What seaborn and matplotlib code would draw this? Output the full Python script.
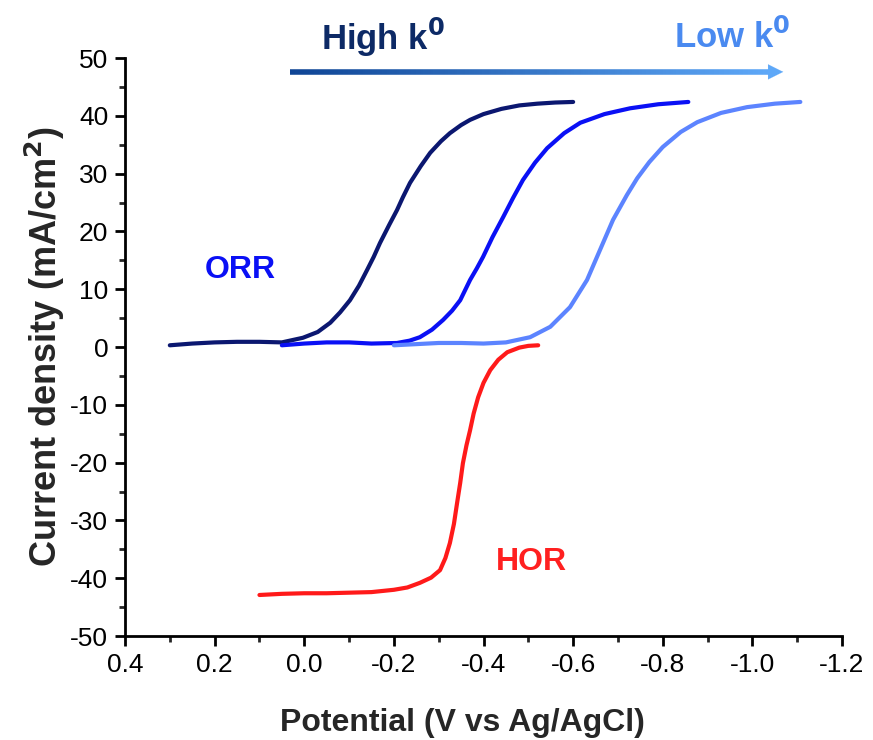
import numpy as np
import pandas as pd
import matplotlib
matplotlib.use("Agg")
import matplotlib.pyplot as plt
from matplotlib.collections import LineCollection
from matplotlib.colors import LinearSegmentedColormap
from matplotlib.ticker import MultipleLocator, FuncFormatter
import seaborn as sns

# Polarisation curves: potential (V vs Ag/AgCl) and current density (mA/cm^2)
orr_high_x = [0.30, 0.25, 0.20, 0.15, 0.10, 0.05, 0.003, -0.03, -0.058, -0.08, -0.102,
              -0.122, -0.14, -0.155, -0.169, -0.19, -0.207, -0.22, -0.236, -0.26, -0.281,
              -0.305, -0.325, -0.35, -0.37, -0.40, -0.44, -0.48, -0.52, -0.56, -0.60]
orr_high_y = [0.3, 0.6, 0.8, 0.9, 0.9, 0.8, 1.6, 2.6, 4.2, 6.0, 8.1,
              10.6, 13.3, 15.6, 18.0, 21.2, 23.7, 25.9, 28.4, 31.3, 33.6,
              35.6, 37.0, 38.4, 39.3, 40.3, 41.2, 41.8, 42.1, 42.3, 42.4]

orr_mid_x = [0.05, 0.0, -0.05, -0.10, -0.15, -0.207, -0.235, -0.258, -0.285, -0.31,
             -0.33, -0.348, -0.37, -0.385, -0.399, -0.42, -0.444, -0.466, -0.488,
             -0.515, -0.542, -0.58, -0.616, -0.67, -0.727, -0.79, -0.857]
orr_mid_y = [0.3, 0.6, 0.8, 0.8, 0.6, 0.7, 1.1, 1.7, 3.0, 4.7,
             6.3, 8.1, 11.6, 13.6, 15.6, 19.0, 22.5, 25.8, 28.9,
             31.9, 34.4, 37.0, 38.8, 40.3, 41.3, 42.0, 42.4]

orr_low_x = [-0.20, -0.25, -0.30, -0.35, -0.40, -0.45, -0.504, -0.549, -0.593, -0.631,
             -0.66, -0.689, -0.72, -0.743, -0.77, -0.80, -0.84, -0.877, -0.93,
             -0.988, -1.05, -1.107]
orr_low_y = [0.3, 0.5, 0.7, 0.7, 0.6, 0.8, 1.7, 3.5, 6.9, 11.6,
             16.8, 22.0, 26.3, 29.2, 32.0, 34.6, 37.2, 38.9, 40.5,
             41.5, 42.1, 42.4]

hor_x = [0.10, 0.05, 0.0, -0.05, -0.10, -0.15, -0.20, -0.23, -0.258, -0.283, -0.303,
         -0.315, -0.325, -0.334, -0.341, -0.348, -0.354, -0.362, -0.37, -0.378,
         -0.388, -0.40, -0.415, -0.433, -0.453, -0.48, -0.50, -0.522]
hor_y = [-42.9, -42.7, -42.6, -42.6, -42.5, -42.4, -42.0, -41.6, -40.8, -39.9, -38.6,
         -36.5, -33.9, -30.6, -27.0, -23.5, -20.1, -17.0, -14.4, -11.5,
         -8.7, -6.2, -4.0, -2.2, -0.9, -0.1, 0.2, 0.3]

series = ["ORR high", "ORR mid", "ORR low", "HOR"]
palette = {"ORR high": "#0b1770", "ORR mid": "#0a10f5", "ORR low": "#5c84ff", "HOR": "#ff1a1a"}

frames = []
for name, xs, ys in zip(series,
                        [orr_high_x, orr_mid_x, orr_low_x, hor_x],
                        [orr_high_y, orr_mid_y, orr_low_y, hor_y]):
    frames.append(pd.DataFrame({"E": xs, "j": ys, "curve": name}))
df = pd.concat(frames, ignore_index=True)

sns.set_theme(style="ticks")
plt.rcParams["font.family"] = ["Liberation Sans", "DejaVu Sans"]
plt.rcParams["axes.unicode_minus"] = False

fig = plt.figure(figsize=(8.73, 7.40), dpi=100)
ax = fig.add_axes([0.1432, 0.1405, 0.8213, 0.7811])

for name in series:
    sub = df[df["curve"] == name]
    sns.lineplot(data=sub, x="E", y="j", sort=False, estimator=None,
                 color=palette[name], lw=3.0, ax=ax, legend=False,
                 solid_joinstyle="round", solid_capstyle="round")

ax.set_xlim(0.4, -1.2)
ax.set_ylim(-50, 50)
ax.xaxis.set_major_locator(MultipleLocator(0.2))
ax.xaxis.set_minor_locator(MultipleLocator(0.1))
ax.yaxis.set_major_locator(MultipleLocator(10))
ax.yaxis.set_minor_locator(MultipleLocator(5))
ax.xaxis.set_major_formatter(FuncFormatter(lambda v, p: "0.0" if abs(v) < 1e-9 else f"{v:.1f}"))
ax.yaxis.set_major_formatter(FuncFormatter(lambda v, p: f"{v:.0f}"))

sns.despine(ax=ax)
for s in ["left", "bottom"]:
    ax.spines[s].set_linewidth(2.0)
    ax.spines[s].set_color("black")
ax.tick_params(which="major", length=7, width=2, direction="out", labelsize=19,
               colors="black", pad=5)
ax.tick_params(which="minor", length=4, width=2, direction="out")

ax.set_xlabel("Potential (V vs Ag/AgCl)", fontsize=23, fontweight="bold")
ax.xaxis.set_label_coords(0.47, -0.125)
ax.set_ylabel("Current density (mA/cm$^{\\mathbf{2}}$)", fontsize=26, fontweight="bold", labelpad=2)

ax.text(0.143, 13.3, "ORR", color="#0a10f5", fontsize=23, fontweight="bold",
        ha="center", va="center")
ax.text(-0.508, -37.2, "HOR", color="#ff2020", fontsize=23, fontweight="bold",
        ha="center", va="center")

# Gradient arrow from high to low rate constant
cmap = LinearSegmentedColormap.from_list("k0", ["#0f4595", "#5ea8f8"])
xs = np.linspace(0.032, -1.045, 200)
pts = np.column_stack([xs, np.full_like(xs, 47.6)])
segs = np.stack([pts[:-1], pts[1:]], axis=1)
lc = LineCollection(segs, cmap=cmap, linewidths=4, clip_on=False, capstyle="butt")
lc.set_array(np.linspace(0, 1, len(segs)))
ax.add_collection(lc)
ax.annotate("", xy=(-1.075, 47.6), xytext=(-1.03, 47.6),
            arrowprops=dict(arrowstyle="-|>,head_length=0.9,head_width=0.45",
                            color="#5ea8f8", lw=0.1), annotation_clip=False)

ax.text(-0.176, 53.6, "High k$^{\\mathbf{0}}$", color="#0d2a66", fontsize=25,
        fontweight="bold", ha="center", va="center", clip_on=False)
ax.text(-0.955, 53.6, "Low k$^{\\mathbf{0}}$", color="#4a8af0", fontsize=25,
        fontweight="bold", ha="center", va="center", clip_on=False)

fig.savefig("out.png", dpi=100, facecolor="white")
